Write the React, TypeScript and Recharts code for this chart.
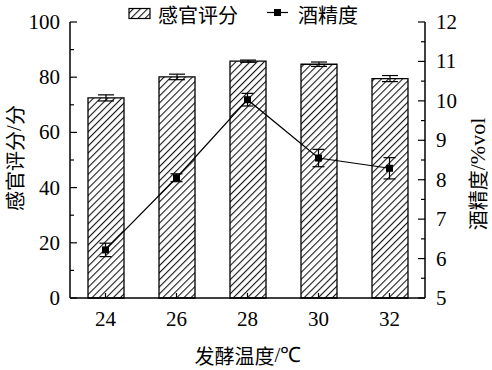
import React from 'react';
import { ComposedChart, Bar, Line, XAxis, YAxis, ErrorBar, Customized } from 'recharts';

const temps = ['24', '26', '28', '30', '32'];
const sensoryScore = [72.5, 80.1, 85.8, 84.7, 79.5];
const sensoryErr = [1.1, 1.0, 0.4, 0.8, 1.1];
const alcohol = [6.22, 8.05, 10.03, 8.55, 8.29];
const alcoholErr = [0.17, 0.1, 0.16, 0.22, 0.27];
const leftTicks = [0, 10, 20, 30, 40, 50, 60, 70, 80, 90, 100];
const rightTicks = [5, 5.5, 6, 6.5, 7, 7.5, 8, 8.5, 9, 9.5, 10, 10.5, 11, 11.5, 12];

const data = temps.map((t, i) => ({
  t,
  score: sensoryScore[i],
  scoreErr: sensoryErr[i],
  alc: alcohol[i],
  alcErr: alcoholErr[i],
}));

const SERIF = 'Liberation Serif';
const CJK = 'Noto Sans CJK SC';

const LeftTick = (props: any) => {
  const { x, y, payload } = props;
  const v = payload.value;
  const major = v % 20 === 0;
  return (
    <g>
      <line x1={x} x2={x + (major ? 7 : 4)} y1={y} y2={y} stroke="#000" strokeWidth={1.2} />
      {major && (
        <text x={x - 10} y={y} textAnchor="end" dominantBaseline="central" fontFamily={SERIF} fontSize={21} fill="#000">
          {v}
        </text>
      )}
    </g>
  );
};

const RightTick = (props: any) => {
  const { x, y, payload } = props;
  const v = payload.value;
  const major = Number.isInteger(v);
  return (
    <g>
      <line x1={x} x2={x - (major ? 7 : 4)} y1={y} y2={y} stroke="#000" strokeWidth={1.2} />
      {major && (
        <text x={x + 11} y={y} textAnchor="start" dominantBaseline="central" fontFamily={SERIF} fontSize={21} fill="#000">
          {v}
        </text>
      )}
    </g>
  );
};

const BottomTick = (props: any) => {
  const { x, y, payload } = props;
  return (
    <g>
      <line x1={x} x2={x} y1={y} y2={y - 5} stroke="#000" strokeWidth={1.2} />
      <text x={x} y={y + 21} textAnchor="middle" dominantBaseline="central" fontFamily={SERIF} fontSize={21} fill="#000">
        {payload.value}
      </text>
    </g>
  );
};

const SquareDot = (props: any) => {
  const { cx, cy } = props;
  if (cx == null || cy == null) return null;
  return <rect x={cx - 3.5} y={cy - 3.5} width={7} height={7} fill="#000" />;
};

const Decorations = () => (
  <g>
    {/* legend */}
    <rect x={129} y={8.5} width={21} height={10} fill="url(#hatch)" stroke="#000" strokeWidth={1.2} />
    <text x={158} y={14} dominantBaseline="central" fontFamily={CJK} fontSize={20} fill="#000">感官评分</text>
    <line x1={267} x2={288} y1={12.5} y2={12.5} stroke="#000" strokeWidth={1.2} />
    <rect x={274} y={9} width={7} height={7} fill="#000" />
    <text x={298} y={14} dominantBaseline="central" fontFamily={CJK} fontSize={20} fill="#000">酒精度</text>
    {/* axis titles */}
    <text
      x={14}
      y={158}
      transform="rotate(-90 14 158)"
      textAnchor="middle"
      dominantBaseline="central"
      fontFamily={CJK}
      fontSize={20}
      fill="#000"
    >
      感官评分<tspan fontFamily={SERIF} fontSize={21}>/</tspan>分
    </text>
    <text
      x={477}
      y={174}
      transform="rotate(-90 477 174)"
      textAnchor="middle"
      dominantBaseline="central"
      fontFamily={CJK}
      fontSize={20}
      fill="#000"
    >
      酒精度<tspan fontFamily={SERIF} fontSize={22}>/%vol</tspan>
    </text>
    <text x={248} y={355} textAnchor="middle" dominantBaseline="central" fontFamily={CJK} fontSize={20} fill="#000">
      发酵温度<tspan fontFamily={SERIF} fontSize={21}>/℃</tspan>
    </text>
  </g>
);

export default function App() {
  return (
    <div style={{ position: 'absolute', left: 0, top: 0, width: 492, height: 370, background: '#fff' }}>
      <ComposedChart
        width={492}
        height={370}
        data={data}
        margin={{ top: 22, right: 66, bottom: 71, left: 69 }}
      >
        <defs>
          <pattern id="hatch" patternUnits="userSpaceOnUse" width={5} height={5} patternTransform="rotate(45)">
            <rect width={5} height={5} fill="#fff" />
            <line x1={0.6} y1={0} x2={0.6} y2={5} stroke="#000" strokeWidth={1.0} />
          </pattern>
        </defs>
        <XAxis
          dataKey="t"
          height={1}
          tickSize={0}
          tickMargin={0}
          tickLine={false}
          interval={0}
          tick={<BottomTick />}
          axisLine={{ stroke: '#000', strokeWidth: 1.5 }}
        />
        <YAxis
          yAxisId="left"
          width={1}
          domain={[0, 100]}
          ticks={leftTicks}
          interval={0}
          tickSize={0}
          tickMargin={0}
          tickLine={false}
          tick={<LeftTick />}
          axisLine={{ stroke: '#000', strokeWidth: 1.5 }}
        />
        <YAxis
          yAxisId="right"
          orientation="right"
          width={1}
          domain={[5, 12]}
          ticks={rightTicks}
          interval={0}
          tickSize={0}
          tickMargin={0}
          tickLine={false}
          tick={<RightTick />}
          axisLine={{ stroke: '#000', strokeWidth: 1.5 }}
        />
        <Bar
          yAxisId="left"
          dataKey="score"
          barSize={36}
          fill="url(#hatch)"
          stroke="#000"
          strokeWidth={1.3}
          isAnimationActive={false}
        >
          <ErrorBar dataKey="scoreErr" width={8} stroke="#000" strokeWidth={1.2} />
        </Bar>
        <Line
          yAxisId="right"
          dataKey="alc"
          stroke="#000"
          strokeWidth={1.2}
          dot={<SquareDot />}
          activeDot={false}
          isAnimationActive={false}
        >
          <ErrorBar dataKey="alcErr" width={6} stroke="#000" strokeWidth={1.2} />
        </Line>
        <Customized component={Decorations} />
      </ComposedChart>
    </div>
  );
}
